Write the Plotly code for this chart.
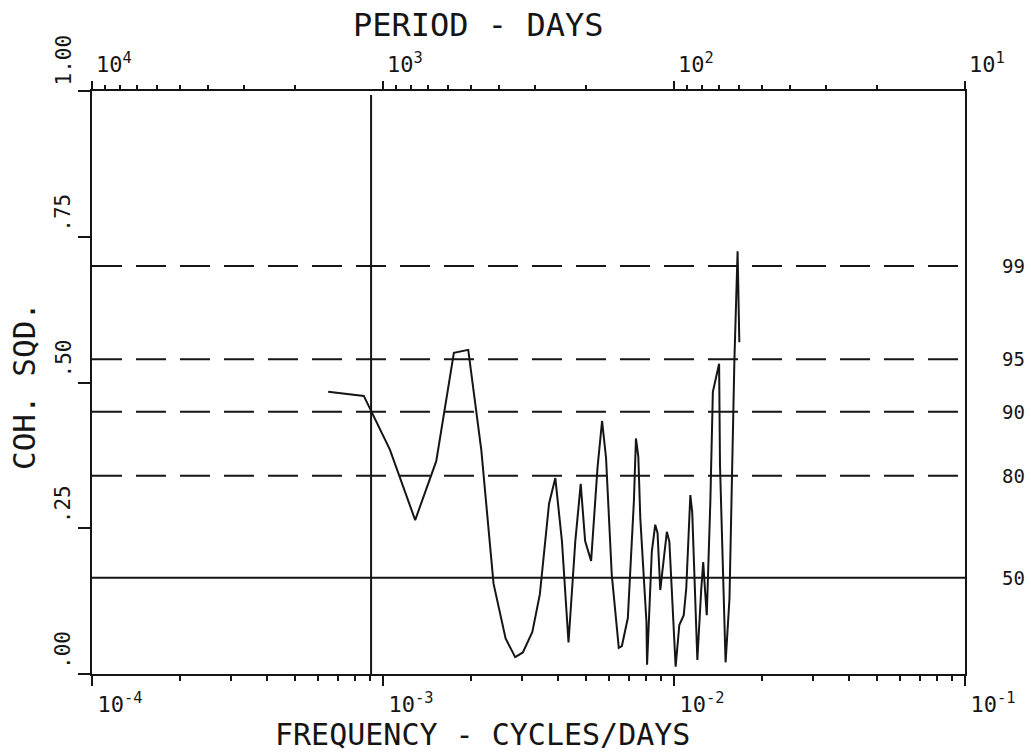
import plotly.graph_objects as go

# Squared coherence vs frequency (cycles/day)
freq = [6.48e-4, 8.59e-4, 1.056e-3, 1.29e-3, 1.524e-3, 1.752e-3, 1.963e-3, 2.177e-3,
        2.398e-3, 2.638e-3, 2.846e-3, 3.024e-3, 3.26e-3, 3.46e-3, 3.72e-3, 3.91e-3,
        4.12e-3, 4.34e-3, 4.58e-3, 4.78e-3, 4.95e-3, 5.19e-3, 5.46e-3, 5.66e-3,
        5.84e-3, 6.11e-3, 6.46e-3, 6.62e-3, 6.94e-3, 7.28e-3, 7.40e-3, 7.54e-3,
        7.66e-3, 8.04e-3, 8.08e-3, 8.39e-3, 8.62e-3, 8.78e-3, 8.97e-3, 9.45e-3,
        9.64e-3, 9.91e-3, 1.013e-2, 1.043e-2, 1.080e-2, 1.102e-2, 1.138e-2, 1.155e-2,
        1.185e-2, 1.203e-2, 1.240e-2, 1.260e-2, 1.277e-2, 1.296e-2, 1.333e-2, 1.360e-2,
        1.429e-2, 1.439e-2, 1.504e-2, 1.551e-2, 1.613e-2, 1.643e-2, 1.654e-2, 1.677e-2]
coh_sqd = [0.484, 0.477, 0.385, 0.264, 0.365, 0.551, 0.556, 0.384, 0.155, 0.061,
           0.029, 0.037, 0.072, 0.137, 0.292, 0.336, 0.228, 0.054, 0.228, 0.326,
           0.228, 0.194, 0.354, 0.434, 0.371, 0.171, 0.045, 0.048, 0.096, 0.296,
           0.404, 0.373, 0.267, 0.090, 0.016, 0.210, 0.256, 0.242, 0.144, 0.244,
           0.227, 0.095, 0.0125, 0.084, 0.101, 0.147, 0.307, 0.278, 0.124, 0.024,
           0.144, 0.192, 0.147, 0.101, 0.295, 0.484, 0.532, 0.358, 0.020, 0.129,
           0.540, 0.650, 0.725, 0.569]

# Significance levels (percent) and the coherence each corresponds to
sig_labels = ["99", "95", "90", "80", "50"]
sig_values = [0.70, 0.54, 0.45, 0.34, 0.165]
sig_dashed = [True, True, True, True, False]

# Frequency marker line
marker_freq = 9.1e-4

# Axis ticks
freq_major = [1e-4, 1e-3, 1e-2, 1e-1]
freq_major_text = ["10<sup>-4</sup>", "10<sup>-3</sup>", "10<sup>-2</sup>", "10<sup>-1</sup>"]
period_major = [1e4, 1e3, 1e2, 1e1]
period_major_text = ["10<sup>4</sup>", "10<sup>3</sup>", "10<sup>2</sup>", "10<sup>1</sup>"]
y_ticks = [0.0, 0.25, 0.5, 0.75, 1.0]
y_tick_text = [".00", ".25", ".50", ".75", "1.00"]

FONT = "DejaVu Sans Mono"
INK = "#151515"

freq_minor = [k * 10.0 ** n for n in (-4, -3, -2) for k in range(2, 10)]
period_minor = [k * 10.0 ** n for n in (1, 2, 3) for k in range(2, 10)]

# Figure geometry (pixels)
W, H = 1031, 755
L, R, T, B = 92, 66, 91, 81
PW, PH = W - L - R, H - T - B


def px_x(x):
    return (x - L) / PW


def px_y(y):
    return (H - B - y) / PH


fig = go.Figure()

fig.add_trace(go.Scatter(
    x=freq, y=coh_sqd, mode="lines",
    line=dict(color=INK, width=2), xaxis="x", yaxis="y",
    hoverinfo="skip", showlegend=False,
))
# empty trace so the period axis gets drawn
fig.add_trace(go.Scatter(x=[None], y=[None], xaxis="x2", yaxis="y",
                         showlegend=False, hoverinfo="skip"))

for val, dashed in zip(sig_values, sig_dashed):
    fig.add_shape(type="line", xref="paper", yref="y", x0=0, x1=1, y0=val, y1=val,
                  line=dict(color=INK, width=2, dash="30px,14px" if dashed else "solid"))

fig.add_shape(type="line", xref="x", yref="paper", x0=marker_freq, x1=marker_freq,
              y0=0, y1=0.993, line=dict(color=INK, width=2))

axis_common = dict(
    type="log", range=[-4, -1], showgrid=False, zeroline=False,
    showline=True, linecolor=INK, linewidth=2,
    ticks="outside", tickcolor=INK, tickwidth=2,
    tickfont=dict(family=FONT, size=22, color=INK),
    tickmode="array",
)

fig.update_layout(
    width=W, height=H,
    margin=dict(l=L, r=R, t=T, b=B),
    paper_bgcolor="white", plot_bgcolor="white",
    showlegend=False,
    xaxis=dict(
        **axis_common,
        tickvals=freq_major, ticktext=freq_major_text,
        ticklen=10, ticklabelshift=28,
        minor=dict(tickmode="array", tickvals=freq_minor, ticks="outside",
                   ticklen=5, tickwidth=2, tickcolor=INK),
        mirror=False,
    ),
    xaxis2=dict(
        **axis_common,
        overlaying="x", side="top", anchor="y",
        tickvals=[1.0 / p for p in period_major], ticktext=period_major_text,
        ticklen=8, ticklabelshift=22,
        minor=dict(tickmode="array", tickvals=[1.0 / p for p in period_minor],
                   ticks="outside", ticklen=4, tickwidth=2, tickcolor=INK),
    ),
    yaxis=dict(
        range=[0, 1], showgrid=False, zeroline=False,
        showline=True, linecolor=INK, linewidth=2, mirror=True,
        ticks="outside", ticklen=12, tickwidth=2, tickcolor=INK,
        tickmode="array", tickvals=y_ticks, showticklabels=False,
    ),
)

# rotated y tick labels, starting just above each tick
for v, t in zip(y_ticks, y_tick_text):
    fig.add_annotation(text=t, xref="paper", yref="y", x=px_x(63), y=v,
                       xanchor="center", yanchor="bottom", yshift=3,
                       textangle=-90, showarrow=False,
                       font=dict(family=FONT, size=21, color=INK))

# significance level labels on the right
for lab, v in zip(sig_labels, sig_values):
    fig.add_annotation(text=lab, xref="paper", yref="y", x=1, y=v,
                       xanchor="left", yanchor="middle", xshift=35,
                       showarrow=False, font=dict(family=FONT, size=19, color=INK))

# axis titles
fig.add_annotation(text="PERIOD - DAYS", xref="paper", yref="paper",
                   x=px_x(478), y=px_y(25), xanchor="center", yanchor="middle",
                   showarrow=False, font=dict(family=FONT, size=32, color=INK))
fig.add_annotation(text="FREQUENCY - CYCLES/DAYS", xref="paper", yref="paper",
                   x=px_x(482), y=px_y(754), xanchor="center", yanchor="bottom",
                   showarrow=False, font=dict(family=FONT, size=30, color=INK))
fig.add_annotation(text="COH. SQD.", xref="paper", yref="paper",
                   x=px_x(24), y=px_y(386), xanchor="center", yanchor="middle",
                   textangle=-90, showarrow=False,
                   font=dict(family=FONT, size=31, color=INK))

fig.write_html("out.html")
